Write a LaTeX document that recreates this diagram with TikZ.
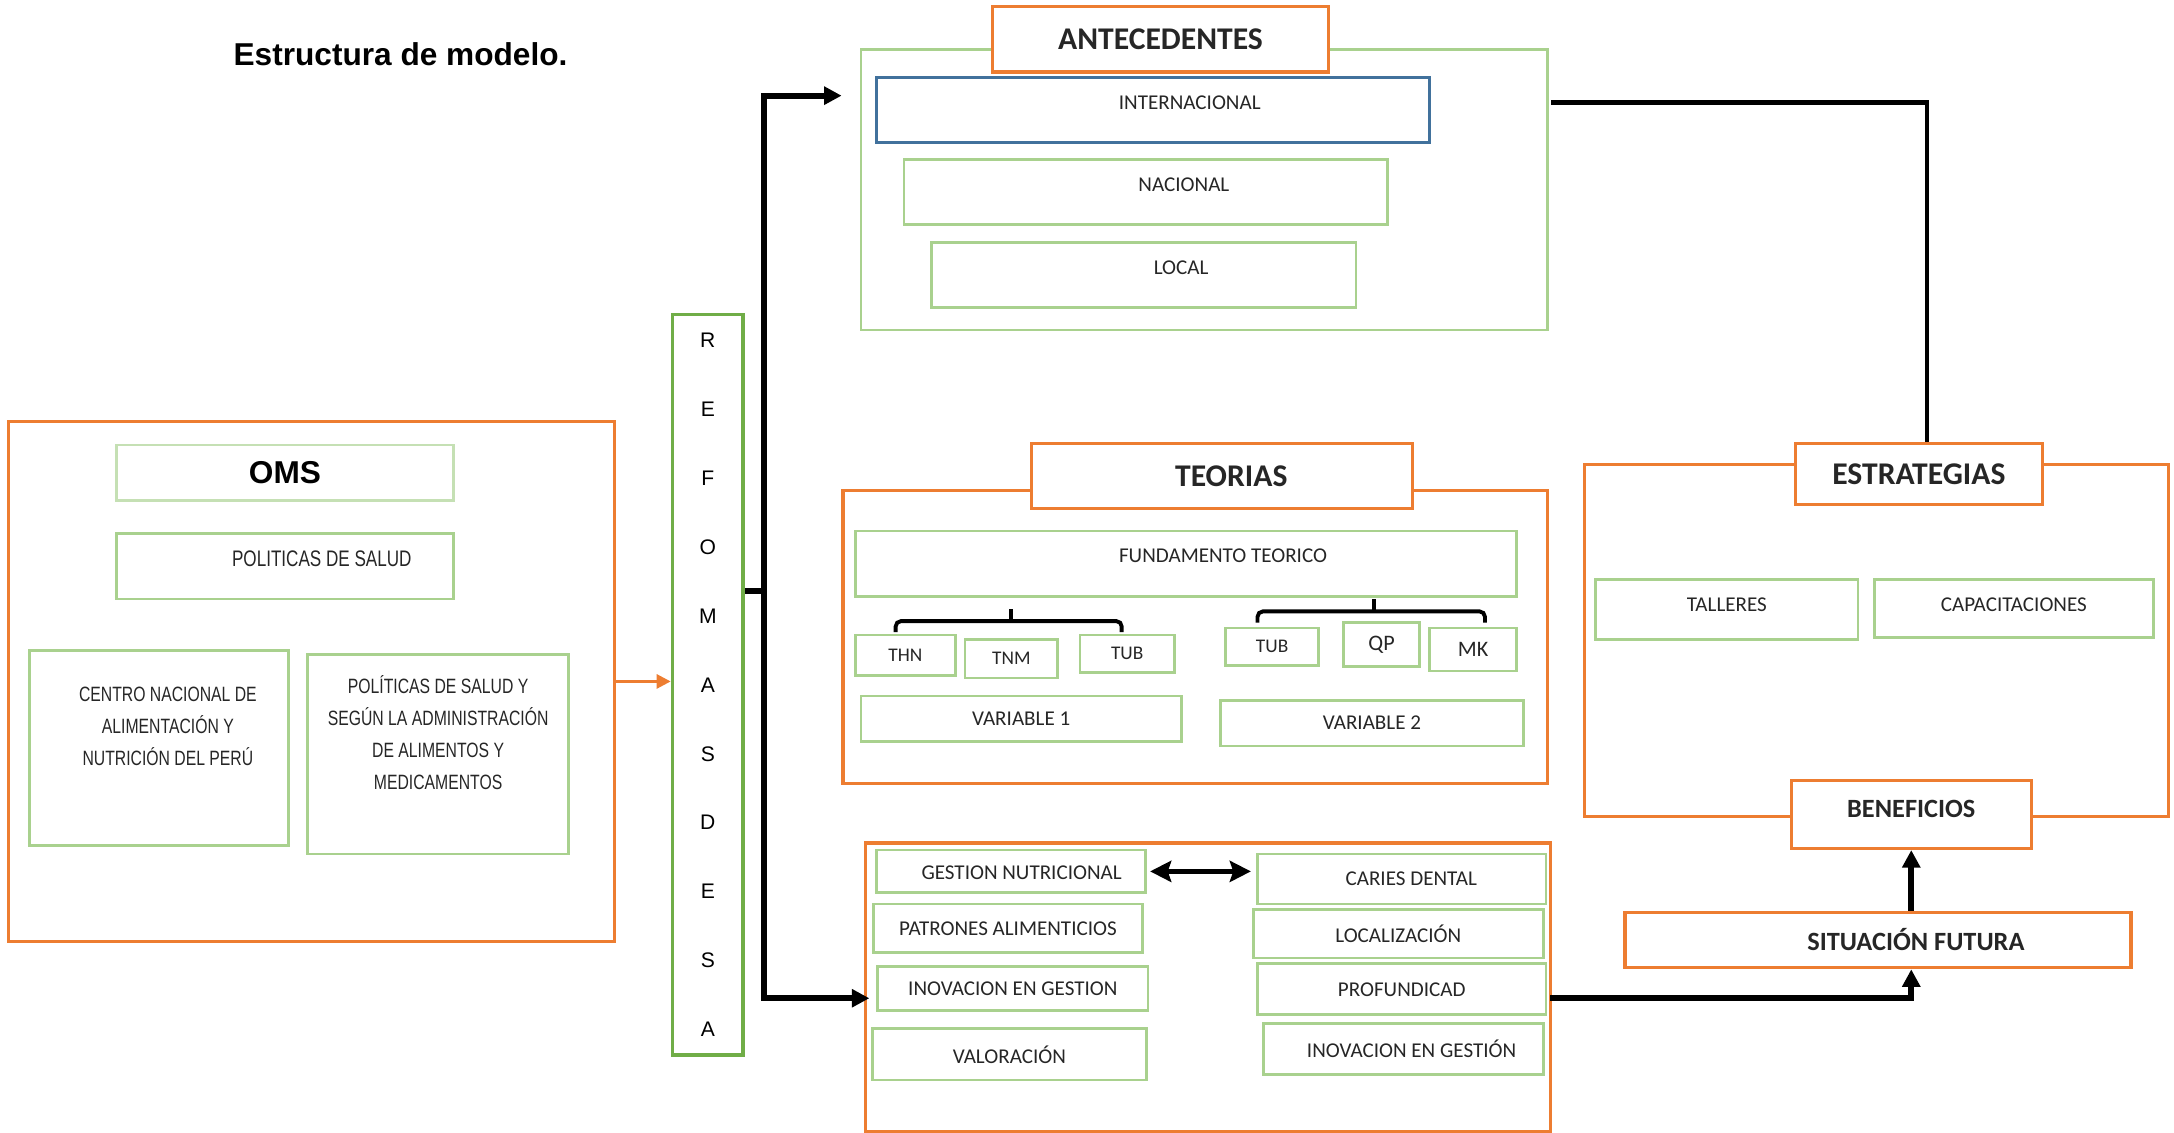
\documentclass[tikz,border=0pt]{standalone}
\usepackage{fontspec}
\setmainfont{Carlito}
\newfontfamily\arialfont{Liberation Sans}
\newfontfamily\narrowfont[FakeStretch=0.76]{Liberation Sans}
\usepackage{tikz}
\usetikzlibrary{arrows.meta}
\definecolor{orng}{RGB}{237,125,49}
\definecolor{lgreen}{RGB}{169,209,142}
\definecolor{pgreen}{RGB}{197,224,180}
\definecolor{dgreen}{RGB}{112,173,71}
\definecolor{bblue}{RGB}{65,113,156}

\begin{document}
\begin{tikzpicture}[x=0.013865cm, y=-0.013865cm,
    wh/.style 2 args={minimum width=#1*0.013865cm, minimum height=#2*0.013865cm},
    obox/.style={draw=orng, line width=0.9pt, inner sep=0pt, text=black!85},
    gbox/.style={draw=lgreen, line width=0.8pt, inner sep=0pt, text=black!85, font=\fontsize{6}{7}\selectfont},
    gtext/.style={text=black!85, font=\fontsize{6}{7}\selectfont},
    htext/.style={text=black!85, font=\bfseries\fontsize{9}{10}\selectfont},
    narrow/.style={text=black!85, font=\narrowfont\fontsize{5.9}{9.1}\selectfont},
    head/.style={obox, fill=white, font=\bfseries\fontsize{9}{10}\selectfont},
    main/.style={line width=1.7pt, -{Triangle[length=5pt,width=5pt]}}]
  \useasboundingbox (0,0) rectangle (1568,817);
  \node[anchor=base west, inner sep=0pt, font=\arialfont\bfseries\fontsize{9}{11}\selectfont] (title) at (168,47) {Estructura de modelo.};

  % OMS
  \node[obox, wh={437}{375}] (oms) at (224.5,491.5) {};
  \node[gbox, draw=pgreen, wh={243}{40}, text=black, font=\arialfont\bfseries\fontsize{9}{10}\selectfont] (omst) at (205.5,341) {OMS};
  \node[gbox, wh={243}{47}, label={[narrow, font=\narrowfont\fontsize{6.4}{8}\selectfont, xshift=10.5pt, yshift=2.2pt]center:POLITICAS DE SALUD}] (polsal) at (205.5,408.5) {};
  \node[gbox, wh={187}{141}, label={[narrow, align=center, xshift=2.6pt, yshift=6.1pt]center:CENTRO NACIONAL DE\\ALIMENTACIÓN Y\\NUTRICIÓN DEL PERÚ}] (cenan) at (114.5,539.5) {};
  \node[gbox, wh={188}{144}, label={[narrow, align=center, yshift=6.1pt]center:POLÍTICAS DE SALUD Y\\SEGÚN LA ADMINISTRACIÓN\\DE ALIMENTOS Y\\MEDICAMENTOS}] (digesa) at (316,544) {};

  % REFOMASDESA
  \node[draw=dgreen, line width=1pt, wh={51}{534}, inner sep=0pt, align=center, font=\arialfont\fontsize{6}{19.6}\selectfont] (refo) at (510.5,494) {R\\E\\F\\O\\M\\A\\S\\D\\E\\S\\A};
  \draw[orng, line width=0.8pt, -{Triangle[length=4pt,width=4pt]}] (oms.east) -- (oms.east -| refo.west);

  % ANTECEDENTES
  \node[gbox, wh={495}{202}] (ant) at (868.5,137) {};
  \node[head, wh={242}{47}] (antt) at (837,28.5) {ANTECEDENTES};
  \node[gbox, draw=bblue, wh={399}{47}, label={[gtext, xshift=10.5pt, yshift=2.2pt]center:INTERNACIONAL}] (intl) at (831.5,79.5) {};
  \node[gbox, wh={349}{47}, label={[gtext, xshift=10.8pt, yshift=2.2pt]center:NACIONAL}] (nac) at (826.5,138.5) {};
  \node[gbox, wh={306}{47}, label={[gtext, xshift=10.6pt, yshift=2.2pt]center:LOCAL}] (loc) at (825,198.5) {};

  % TEORIAS
  \node[obox, wh={508}{211}] (teo) at (862,459.5) {};
  \node[head, wh={275}{47}, label={[htext, xshift=2.6pt]center:TEORIAS}] (teot) at (881.5,343.5) {};
  \node[gbox, wh={477}{47}, label={[gtext, xshift=10.5pt, yshift=2.2pt]center:FUNDAMENTO TEORICO}] (fund) at (855.5,406.5) {};
  \draw[line width=1.1pt, rounded corners=1.5pt] (646,456) -- (646,448) -- (809,448) -- (809,456);
  \draw[line width=1.1pt] (729,448) -- (729,439);
  \draw[line width=1.1pt, rounded corners=1.5pt] (907,449) -- (907,441) -- (1071,441) -- (1071,449);
  \draw[line width=1.1pt] (991,441) -- (991,432);
  \node[gbox, wh={72}{29}, font=\fontsize{5.5}{6}\selectfont] (thn) at (653,472.5) {THN};
  \node[gbox, wh={67}{28}, font=\fontsize{5.5}{6}\selectfont] (tnm) at (729.5,475) {TNM};
  \node[gbox, wh={68}{27}, font=\fontsize{5.5}{6}\selectfont] (tuba) at (813,471.5) {TUB};
  \node[gbox, wh={67}{27}, font=\fontsize{5.5}{6}\selectfont] (tubb) at (917.5,466.5) {TUB};
  \node[gbox, wh={55}{32}, font=\fontsize{6.3}{7}\selectfont] (qp) at (996.5,465) {QP};
  \node[gbox, wh={63}{31}, font=\fontsize{6.3}{7}\selectfont] (mk) at (1062.5,468.5) {MK};
  \node[gbox, wh={231}{33}] (vara) at (736.5,518.5) {VARIABLE 1};
  \node[gbox, wh={219}{33}] (varb) at (989.5,521.5) {VARIABLE 2};

  % diagnostico
  \node[obox, wh={494}{208}] (diag) at (871,712) {};
  \node[gbox, wh={194}{31}, label={[gtext, xshift=3.1pt, yshift=-0.5pt]center:GESTION NUTRICIONAL}] (gn) at (729,628.5) {};
  \node[gbox, wh={194}{35}] (pa) at (727,669.5) {PATRONES ALIMENTICIOS};
  \node[gbox, wh={195}{32}] (ig) at (730.5,713) {INOVACION EN GESTION};
  \node[gbox, wh={198}{37}] (val) at (728,760.5) {VALORACIÓN};
  \node[gbox, wh={208}{36}, label={[gtext, xshift=2.7pt]center:CARIES DENTAL}] (cd) at (1011,634) {};
  \node[gbox, wh={209}{35}] (locz) at (1008.5,673.5) {LOCALIZACIÓN};
  \node[gbox, wh={208}{37}] (prof) at (1011,713.5) {PROFUNDICAD};
  \node[gbox, wh={202}{37}, label={[gtext, xshift=2.4pt]center:INOVACION EN GESTIÓN}] (igb) at (1012,756.5) {};

  % ESTRATEGIAS
  \node[obox, wh={421}{254}] (est) at (1353.5,462) {};
  \node[head, wh={178}{44}] (estt) at (1384,342) {ESTRATEGIAS};
  \node[gbox, wh={189}{43}, label={[gtext, yshift=1.3pt]center:TALLERES}] (tal) at (1245.5,439.5) {};
  \node[gbox, wh={201}{42}, label={[gtext, yshift=1.2pt]center:CAPACITACIONES}] (cap) at (1452.5,439) {};
  \node[head, wh={173}{49}, label={[htext, font=\bfseries\fontsize{7.5}{9}\selectfont, yshift=1.7pt]center:BENEFICIOS}] (ben) at (1378.5,587.5) {};
  \node[obox, wh={365}{40}, label={[htext, font=\bfseries\fontsize{7.5}{9}\selectfont, xshift=10.8pt]center:SITUACIÓN FUTURA}] (sf) at (1354.5,678) {};

  % conectores
  \coordinate (fork) at (551,426);
  \coordinate (antin) at (607,69);
  \coordinate (diagin) at (627,720);
  \coordinate (antout) at (1119,74);
  \coordinate (diagout) at (1118,720);
  \draw[main] (refo.east |- fork) -- (fork) |- (antin);
  \draw[main] (fork) |- (diagin);
  \draw[line width=1.2pt] (antout) -| ([xshift=2.4pt]estt.north);
  \draw[line width=1.5pt, {Stealth[length=6pt,width=6pt,inset=1pt]}-{Stealth[length=6pt,width=6pt,inset=1pt]}, shorten <=1pt, shorten >=1.5pt] (gn.east) -- (gn.east -| cd.west);
  \draw[main] (diagout) -| (sf.south -| ben.south);
  \draw[main] (sf.north -| ben.south) -- (ben.south);
\end{tikzpicture}
\end{document}
